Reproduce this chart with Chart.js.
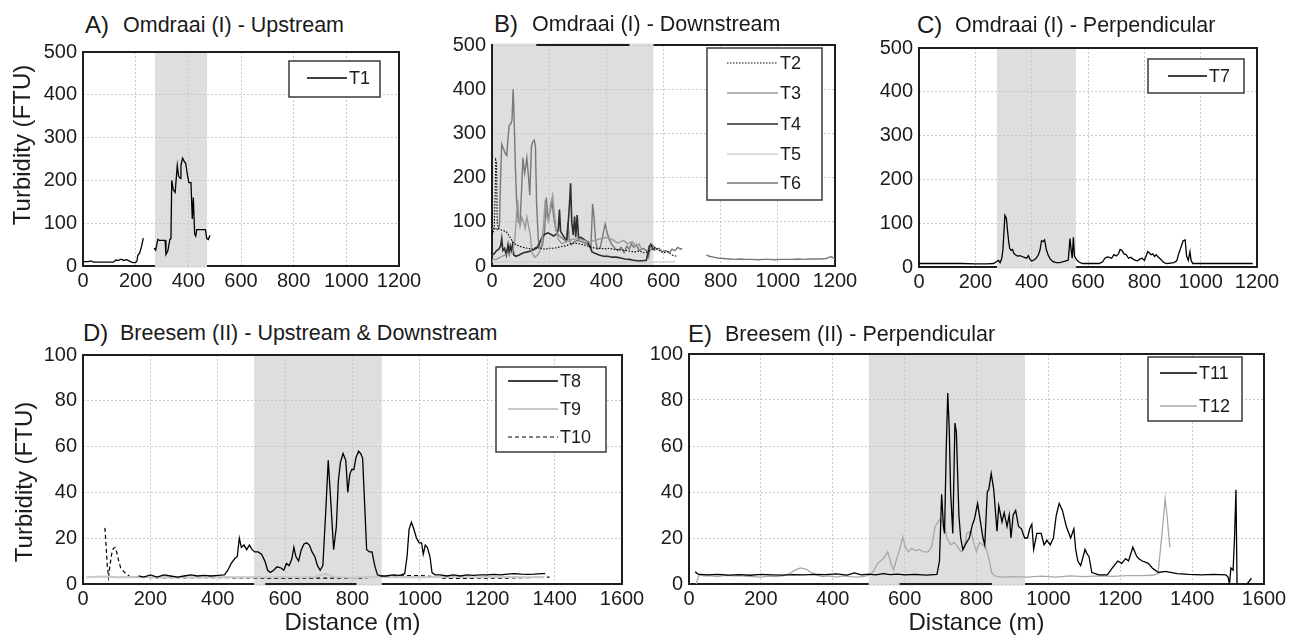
<!DOCTYPE html>
<html>
<head>
<meta charset="utf-8">
<script src="https://cdn.jsdelivr.net/npm/chart.js@4.4.1/dist/chart.umd.min.js"></script>
<style>
    html, body { margin: 0; padding: 0; background: #fff; width: 1290px; height: 635px; overflow: hidden; position: relative; }
    canvas { position: absolute; }
    .ttl { position: absolute; font-family: "Liberation Sans", Arial, sans-serif; color: #1a1a1a; white-space: nowrap; line-height: 1; }
</style>
</head>
<body>
<script>
//? Dados (distancia em m, turbidez em FTU)
const ticksX1200 = [0, 200, 400, 600, 800, 1000, 1200]
const ticksX1600 = [0, 200, 400, 600, 800, 1000, 1200, 1400, 1600]
const ticksY500 = [0, 100, 200, 300, 400, 500]
const ticksY100 = [0, 20, 40, 60, 80, 100]

const T1 = [[0,10],[20,10],[30,12],[40,9],[60,9],[80,9],[100,9],[115,9],[125,14],[135,13],[145,16],[155,13],[165,15],[175,12],[180,10],[190,8],[200,8],[205,12],[208,25],[215,30],[222,45],[229,65],[250,null],
    [270,42],[276,37],[284,62],[290,60],[300,60],[312,60],[315,27],[322,35],[330,62],[334,64],[337,200],[343,178],[350,172],[358,235],[363,210],[369,205],[372,235],[378,252],[384,245],[390,240],[396,215],[402,195],[410,195],[415,110],[419,160],[424,75],[428,70],[432,85],[445,85],[465,85],[470,64],[476,62],[482,72]]

const T2 = [[0,70],[4,75],[8,90],[11,160],[13,240],[16,235],[18,100],[22,85],[30,82],[40,80],[50,78],[58,70],[66,62],[75,52],[85,48],[95,45],[110,42],[125,40],[140,38],[155,42],[170,40],[185,38],[200,40],[215,40],[230,42],[245,44],[260,46],[275,50],[290,52],[305,50],[320,48],[335,45],[350,42],[365,40],[380,40],[395,39],[410,40],[425,38],[440,37],[455,36],[470,35],[485,33],[500,32],[515,34],[530,30],[545,32],[560,38],[572,42],[585,35],[600,30],[615,32],[630,25],[645,22]]
const T3 = [[0,15],[15,15],[30,20],[45,25],[60,28],[72,30],[80,60],[86,120],[90,150],[94,110],[98,90],[104,110],[110,100],[116,85],[122,110],[128,90],[134,70],[140,30],[150,20],[160,25],[172,40],[180,90],[186,150],[192,110],[198,100],[205,140],[212,160],[218,120],[225,80],[232,60],[245,50],[260,55],[280,60],[300,62],[320,58],[340,55],[360,58],[380,62],[400,65],[420,60],[440,52],[460,58],[475,50],[490,55],[505,45],[515,50],[520,40]]
const T4 = [[0,25],[8,28],[16,35],[24,38],[30,45],[34,62],[38,35],[44,40],[50,25],[56,48],[60,30],[64,45],[68,35],[72,48],[76,25],[84,22],[95,25],[110,30],[125,32],[140,35],[155,40],[165,50],[175,65],[185,72],[195,75],[205,72],[215,68],[225,72],[232,82],[236,128],[240,78],[248,70],[256,62],[262,60],[268,110],[272,150],[275,187],[279,100],[284,70],[289,112],[293,65],[298,115],[303,62],[310,65],[318,62],[326,58],[334,55],[342,45],[350,32],[362,28],[375,25],[390,22],[405,22],[420,20],[435,20],[450,18],[465,16],[480,15],[495,13],[510,12],[525,12],[540,13],[546,30],[550,45],[556,48],[562,40],[570,35]]
const T5 = [[0,10],[25,9],[50,10],[75,9],[100,9],[125,10],[150,9],[175,8],[200,9],[230,9],[260,8],[290,9],[320,9],[350,8],[380,9],[410,9],[440,8],[470,9],[500,9],[530,8],[560,9],[590,9],[620,9],[640,10]]
const T6 = [[0,85],[10,85],[20,82],[26,90],[30,200],[34,275],[40,265],[46,255],[52,250],[56,290],[60,318],[66,322],[70,330],[74,400],[78,320],[82,220],[86,150],[92,100],[98,95],[104,180],[108,245],[114,210],[118,225],[122,245],[128,200],[132,160],[138,270],[143,282],[148,285],[152,270],[156,140],[162,60],[168,40],[176,45],[184,80],[190,155],[196,110],[202,120],[210,145],[216,110],[224,80],[232,70],[242,65],[252,60],[260,55],[266,100],[270,60],[278,48],[288,55],[300,58],[312,55],[325,52],[338,48],[346,40],[352,140],[357,110],[362,60],[368,38],[378,40],[388,70],[396,95],[403,75],[410,60],[420,48],[430,40],[440,35],[452,42],[462,30],[472,45],[480,38],[488,50],[496,42],[505,48],[515,35],[528,40],[540,35],[548,20],[555,50],[565,45],[575,38],[585,40],[595,32],[608,35],[620,30],[630,38],[640,35],[650,42],[660,38],[665,40],[700,null],
    [750,25],[760,22],[775,20],[790,18],[810,17],[830,16],[850,15],[870,16],[890,15],[910,15],[930,14],[950,15],[970,15],[990,14],[1010,15],[1030,15],[1050,15],[1070,16],[1090,15],[1110,16],[1130,16],[1150,16],[1170,17],[1180,20],[1188,21],[1195,18],[1200,17]]

const T7 = [[0,8],[50,8],[100,8],[150,8],[200,7],[240,7],[265,8],[275,12],[282,15],[288,10],[294,20],[298,40],[305,118],[310,112],[314,85],[318,60],[322,42],[327,38],[332,40],[336,32],[342,28],[350,25],[358,26],[366,24],[374,22],[382,20],[388,26],[394,18],[400,14],[408,16],[416,20],[424,28],[430,40],[435,60],[440,58],[446,62],[452,40],[458,28],[466,18],[476,12],[488,10],[500,10],[512,12],[522,14],[530,16],[536,65],[540,40],[544,20],[548,68],[552,25],[558,18],[566,12],[580,8],[600,8],[620,8],[640,8],[652,12],[660,20],[668,23],[676,22],[684,20],[692,28],[700,25],[708,30],[714,40],[720,38],[728,30],[736,28],[744,20],[752,22],[760,18],[768,15],[776,14],[784,18],[792,20],[800,15],[808,28],[812,35],[818,32],[824,28],[830,30],[836,24],[842,28],[850,22],[858,18],[866,12],[874,9],[882,8],[892,9],[905,10],[915,14],[922,30],[930,45],[938,60],[945,62],[950,25],[956,15],[962,35],[966,15],[972,8],[1000,8],[1050,8],[1100,8],[1150,8],[1185,8]]

const T8 = [[165,3.5],[180,3],[200,4],[220,3],[240,4],[260,3.5],[280,3],[300,3.5],[320,4],[340,3.5],[360,3.8],[380,3.5],[400,3.8],[420,4],[430,6],[440,9],[450,11],[458,12],[464,20],[470,16],[478,17],[486,15],[494,17],[502,15],[510,14],[520,14],[530,13],[540,10],[548,6],[556,5],[566,6],[576,7.5],[588,7],[596,6],[604,9],[612,8],[620,11],[626,16],[632,12],[640,10],[648,15],[656,17.5],[664,18],[672,17],[680,14],[688,12],[696,8],[704,6],[712,8],[720,30],[728,54],[736,35],[744,15],[752,25],[758,45],[764,53],[772,57],[780,54],[786,40],[792,48],[798,50],[804,50],[810,55],[818,58],[824,57],[830,55],[836,35],[842,15],[850,14],[858,14],[866,8],[874,4],[885,3.5],[900,3.5],[920,4],[940,3.8],[955,4.5],[962,12],[968,24],[975,27],[982,24],[990,20],[998,18],[1005,18],[1010,13],[1016,17],[1022,16],[1030,12],[1036,5],[1045,4],[1060,4],[1080,3.5],[1100,4],[1120,3.5],[1140,4],[1160,3.8],[1180,4],[1200,4],[1220,4.2],[1240,4],[1260,4.3],[1280,4.5],[1300,4.3],[1320,4.2],[1340,4.3],[1360,4.5],[1372,4.5]]
const T9 = [[10,3],[40,3.2],[70,3.3],[100,3],[130,3.1],[160,2.9],[200,3],[250,3.1],[300,3],[350,2.9],[400,3.1],[450,3],[500,3],[550,2.9],[600,3.1],[650,3],[690,3.2],[705,3.8],[718,4.5],[730,3.8],[745,3.2],[770,3],[800,2.6],[830,3],[870,3.2],[920,3],[970,3.1],[1020,3],[1070,3.2],[1120,3.1],[1170,3],[1220,3.2],[1270,3.1],[1320,3],[1370,3]]
const T10 = [[65,24.5],[68,18],[72,8],[76,3],[80,8],[85,13],[90,15.5],[95,16],[100,14],[106,10],[112,7],[118,6],[124,5],[130,4.5],[136,3.5],[145,3],[160,3],[200,2.8],[250,2.8],[300,2.7],[350,2.8],[400,2.8],[450,2.7],[500,2.7],[550,2.4],[600,2.4],[650,2.5],[700,2.6],[750,2.6],[800,2.4],[830,2.5],[870,3.2],[900,3.5],[950,3.6],[1000,3.7],[1040,3.2],[1070,2.5],[1120,2.4],[1170,2.5],[1220,2.6],[1270,2.6],[1320,2.8],[1385,3]]

const T11 = [[17,5.3],[25,4.3],[50,4],[80,4.2],[110,3.9],[140,4.1],[170,3.8],[200,4.2],[230,4],[260,3.9],[290,4.1],[320,4],[350,4.2],[380,4.1],[410,4.4],[440,3.9],[460,4.8],[480,4],[500,4.3],[520,4],[540,4.5],[560,4.1],[580,4.3],[600,4],[630,4.2],[660,3.9],[690,4.2],[697,10],[703,39],[708,25],[711,22],[716,60],[720,83],[724,68],[728,40],[734,22],[740,70],[744,66],[748,45],[751,30],[756,20],[762,15],[772,18],[780,20],[789,26],[794,28],[803,35],[811,27],[818,20],[823,17],[830,40],[834,41],[841,48],[848,41],[857,23],[862,34],[871,27],[877,31],[885,25],[891,30],[896,20],[902,30],[909,32],[917,25],[925,24],[934,20],[942,20],[948,24],[954,26],[959,15],[968,22],[980,22],[988,17],[996,19],[1005,17],[1014,20],[1022,30],[1030,35],[1039,32],[1050,25],[1062,20],[1071,24],[1076,15],[1082,10],[1090,8],[1102,15],[1108,13],[1113,12],[1121,5],[1141,4],[1164,4],[1178,7],[1193,10],[1204,9],[1215,11],[1223,10],[1235,16],[1246,12],[1252,11],[1261,10],[1270,9.5],[1278,9],[1289,7],[1306,5],[1326,5.5],[1358,4.5],[1390,4.2],[1426,4],[1460,4.2],[1494,4],[1500,3],[1504,0],[1508,7],[1514,6],[1518,20],[1522,41],[1525,0],[1535,null],[1553,0],[1565,2.5]]
const T12 = [[20,0],[28,4],[40,3.5],[60,3.5],[80,3.2],[100,3.8],[120,3.5],[140,3.6],[160,3.3],[180,3.2],[200,3],[220,3.4],[240,3.2],[260,3.5],[280,4.5],[295,6],[310,7],[325,6.5],[340,5],[355,4],[370,3.2],[390,3.5],[410,3],[430,3.5],[450,3.2],[470,3],[490,3.4],[505,4],[515,6],[525,9],[540,11],[553,14],[562,9],[569,6],[578,11],[586,15],[595,20.5],[602,16],[610,14],[620,15.5],[630,14.5],[640,15],[652,14],[665,14],[675,16],[685,25],[697,28],[708,27],[718,20],[728,17],[738,18],[748,16],[757,14],[765,15],[773,22],[785,23],[792,18],[800,14],[808,18],[818,17],[828,15],[836,10],[842,5],[850,3.5],[870,3],[900,3.2],[940,3],[980,3.4],[1020,3],[1060,3.5],[1100,3.2],[1140,3.5],[1180,3.3],[1220,3.6],[1260,3.6],[1290,3.8],[1305,4.5],[1315,20],[1325,37],[1330,30],[1338,16]]

const FONTE = '"Liberation Sans", Arial, sans-serif'
const COR_TEXTO = '#1c1c1c'

//? Plugin: faixa cinza, moldura, legenda e titulo do eixo y
const moldura = {
    id: 'moldura',
    beforeDraw(chart, args, o) {
        const { ctx, chartArea: a, scales: { x } } = chart
        const x0 = x.getPixelForValue(o.shade[0]), x1 = x.getPixelForValue(o.shade[1])
        const top = o.coverTop ? a.top - 1.5 : a.top
        const bot = o.coverBottom ? a.bottom + 1.5 : a.bottom
        ctx.save()
        ctx.fillStyle = '#dedede'
        ctx.fillRect(x0, top, x1 - x0, bot - top)
        ctx.restore()
    },
    beforeDatasetsDraw(chart, args, o) {
        const { ctx, chartArea: a, scales: { x } } = chart
        const x0 = x.getPixelForValue(o.shade[0]), x1 = x.getPixelForValue(o.shade[1])
        ctx.save()
        ctx.strokeStyle = '#1e1e1e'
        ctx.lineWidth = 2
        const seg = (xa, xb, y) => { ctx.beginPath(); ctx.moveTo(xa, y); ctx.lineTo(xb, y); ctx.stroke() }
        ctx.beginPath()
        ctx.moveTo(a.left, a.top - 1); ctx.lineTo(a.left, a.bottom + 1)
        ctx.moveTo(a.right, a.top - 1); ctx.lineTo(a.right, a.bottom + 1)
        ctx.stroke()
        const borda = (y, cover, dark) => {
            if (!cover) return seg(a.left - 1, a.right + 1, y)
            seg(a.left - 1, x0, y)
            seg(x1, a.right + 1, y)
            if (dark) seg(x.getPixelForValue(dark[0]), x.getPixelForValue(dark[1]), y)
        }
        borda(a.top, o.coverTop, o.darkTop)
        borda(a.bottom, o.coverBottom, o.darkBottom)
        ctx.restore()
    },
    afterDatasetsDraw(chart, args, o) {
        const { ctx } = chart
        const [ox, oy] = o.off
        const lg = o.legend
        ctx.save()
        // caixa da legenda
        ctx.fillStyle = '#fff'
        ctx.fillRect(lg.box[0] - ox, lg.box[1] - oy, lg.box[2] - lg.box[0], lg.box[3] - lg.box[1])
        ctx.strokeStyle = '#3a3a3a'
        ctx.lineWidth = 1.5
        ctx.strokeRect(lg.box[0] - ox, lg.box[1] - oy, lg.box[2] - lg.box[0], lg.box[3] - lg.box[1])
        ctx.font = '18px ' + FONTE
        ctx.textBaseline = 'middle'
        ctx.textAlign = 'left'
        chart.data.datasets.forEach((ds, i) => {
            const y = lg.rows[i] - oy
            ctx.beginPath()
            ctx.strokeStyle = ds.borderColor
            ctx.lineWidth = ds.borderWidth
            ctx.setLineDash(ds.borderDash || [])
            ctx.moveTo(lg.line[0] - ox, y)
            ctx.lineTo(lg.line[1] - ox, y)
            ctx.stroke()
            ctx.setLineDash([])
            ctx.fillStyle = COR_TEXTO
            ctx.fillText(ds.label, lg.text - ox, y + 1)
        })
        // titulo do eixo y
        if (o.yTitle) {
            ctx.translate(o.yTitle[0] - ox, o.yTitle[1] - oy)
            ctx.rotate(-Math.PI / 2)
            ctx.font = '24px ' + FONTE
            ctx.textAlign = 'center'
            ctx.fillStyle = COR_TEXTO
            ctx.fillText('Turbidity (FTU)', 0, 0)
        }
        ctx.restore()
    }
}

function titulo(letra, texto, x1, x2, base) {
    const a = document.createElement('div')
    a.className = 'ttl'
    a.style.fontSize = '24px'
    a.style.left = x1 + 'px'
    a.style.top = (base - 20.3) + 'px'
    a.textContent = letra
    document.body.appendChild(a)
    const b = document.createElement('div')
    b.className = 'ttl'
    b.style.fontSize = '21.5px'
    b.style.left = x2 + 'px'
    b.style.top = (base - 18.2) + 'px'
    b.textContent = texto
    document.body.appendChild(b)
}

function painel(cfg) {
    const yW = 80, padT = 14, padR = 36
    const [l, t, r, b] = cfg.area
    const w = r - l + yW + padR
    const h = b - t + padT + cfg.xH
    const cv = document.createElement('canvas')
    cv.width = w; cv.height = h
    cv.style.left = (l - yW) + 'px'
    cv.style.top = (t - padT) + 'px'
    cv.style.width = w + 'px'
    cv.style.height = h + 'px'
    document.body.appendChild(cv)

    const fonteTick = { family: FONTE, size: 20 }
    new Chart(cv.getContext('2d'), {
        type: 'scatter',
        data: {
            datasets: cfg.series.map(s => ({
                label: s.label,
                data: s.data.map(p => ({ x: p[0], y: p[1] })),
                showLine: true,
                borderColor: s.color,
                borderWidth: s.width || 1.3,
                borderDash: s.dash || [],
                pointRadius: 0,
                fill: false,
                spanGaps: false,
                tension: 0
            }))
        },
        options: {
            responsive: false,
            animation: false,
            devicePixelRatio: 1,
            layout: { padding: { top: padT, right: padR, left: 0, bottom: 0 } },
            plugins: {
                legend: { display: false },
                tooltip: { enabled: false },
                moldura: {
                    shade: cfg.shade, coverTop: cfg.coverTop, coverBottom: cfg.coverBottom,
                    darkTop: cfg.darkTop, darkBottom: cfg.darkBottom,
                    off: [l - yW, t - padT], legend: cfg.legend, yTitle: cfg.yTitle
                }
            },
            scales: {
                x: {
                    type: 'linear', min: 0, max: cfg.ticksX[cfg.ticksX.length - 1],
                    afterBuildTicks: s => { s.ticks = cfg.ticksX.map(v => ({ value: v })) },
                    afterFit: s => { s.height = cfg.xH },
                    ticks: { autoSkip: false, maxRotation: 0, padding: 3, font: fonteTick, color: COR_TEXTO, callback: v => String(v) },
                    grid: { color: '#c8c8c8', lineWidth: 1, drawTicks: false },
                    border: { display: false, dash: [2, 2] },
                    title: { display: !!cfg.xTitle, text: 'Distance (m)', font: { family: FONTE, size: 24 }, color: COR_TEXTO, padding: 0 }
                },
                y: {
                    type: 'linear', min: 0, max: cfg.ticksY[cfg.ticksY.length - 1],
                    afterBuildTicks: s => { s.ticks = cfg.ticksY.map(v => ({ value: v })) },
                    afterFit: s => { s.width = yW },
                    ticks: { padding: 6, font: fonteTick, color: COR_TEXTO, callback: v => String(v) },
                    grid: { color: '#c8c8c8', lineWidth: 1, drawTicks: false },
                    border: { display: false, dash: [2, 2] }
                }
            }
        },
        plugins: [moldura]
    })
}

// A) Omdraai - Upstream
titulo('A)', 'Omdraai (I) - Upstream', 85, 123, 33)
painel({
    area: [83, 48, 399, 266], xH: 35, ticksX: ticksX1200, ticksY: ticksY500,
    shade: [273, 471], coverBottom: true,
    yTitle: [23, 145],
    legend: { box: [289, 61, 380, 97], rows: [78], line: [307, 347], text: 349 },
    series: [{ label: 'T1', data: T1, color: '#000' }]
})

// B) Omdraai - Downstream
titulo('B)', 'Omdraai (I) - Downstream', 494, 532, 32)
painel({
    area: [492, 41, 835, 266], xH: 35, ticksX: ticksX1200, ticksY: ticksY500,
    shade: [0, 565], coverTop: true, darkTop: [155, 481],
    legend: { box: [707, 48, 822, 200], rows: [63, 93, 124, 154, 183], line: [727, 778], text: 780 },
    series: [
        { label: 'T2', data: T2, color: '#000', width: 1.1, dash: [1.5, 1.5] },
        { label: 'T3', data: T3, color: '#9a9a9a', width: 1.4 },
        { label: 'T4', data: T4, color: '#2e2e2e', width: 1.6 },
        { label: 'T5', data: T5, color: '#cfcfcf', width: 1.5 },
        { label: 'T6', data: T6, color: '#787878', width: 1.4 }
    ]
})

// C) Omdraai - Perpendicular
titulo('C)', 'Omdraai (I) - Perpendicular', 917, 955, 33)
painel({
    area: [919, 44, 1257, 267], xH: 35, ticksX: ticksX1200, ticksY: ticksY500,
    shade: [277, 557], coverBottom: true,
    legend: { box: [1148, 59, 1244, 93], rows: [76], line: [1168, 1207], text: 1209 },
    series: [{ label: 'T7', data: T7, color: '#000' }]
})

// D) Breesem - Upstream & Downstream
titulo('D)', 'Breesem (II) - Upstream & Downstream', 83, 120, 341)
painel({
    area: [83, 351, 622, 584], xH: 54, ticksX: ticksX1600, ticksY: ticksY100, xTitle: true,
    shade: [508, 887], coverBottom: true, darkBottom: [541, 812],
    yTitle: [25, 482],
    legend: { box: [496, 367, 606, 452], rows: [381, 409, 437], line: [508, 558], text: 560 },
    series: [
        { label: 'T8', data: T8, color: '#000', width: 1.3 },
        { label: 'T9', data: T9, color: '#c8c8c8', width: 2 },
        { label: 'T10', data: T10, color: '#000', width: 1.2, dash: [4, 3] }
    ]
})

// E) Breesem - Perpendicular
titulo('E)', 'Breesem (II) - Perpendicular', 688, 725, 342)
painel({
    area: [689, 350, 1264, 584], xH: 54, ticksX: ticksX1600, ticksY: ticksY100, xTitle: true,
    shade: [500, 935], coverBottom: true, darkBottom: [586, 843],
    legend: { box: [1148, 357, 1242, 421], rows: [373, 406], line: [1160, 1197], text: 1199 },
    series: [
        { label: 'T11', data: T11, color: '#000', width: 1.3 },
        { label: 'T12', data: T12, color: '#a8a8a8', width: 1.3 }
    ]
})
</script>
</body>
</html>
